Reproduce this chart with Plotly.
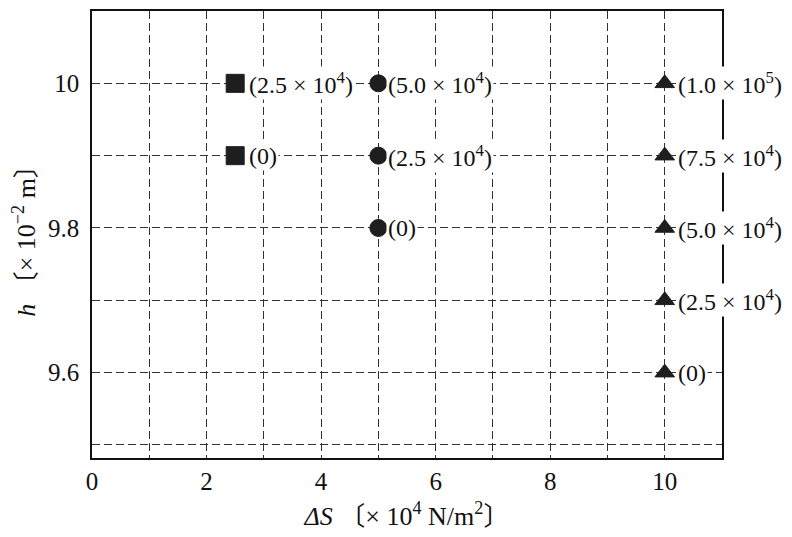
import plotly.graph_objects as go

# Data
square_x = [2.5, 2.5]
square_y = [9.9, 10.0]
square_labels = ["(0)", "(2.5 × 10<sup>4</sup>)"]

circle_x = [5, 5, 5]
circle_y = [9.8, 9.9, 10.0]
circle_labels = ["(0)", "(2.5 × 10<sup>4</sup>)", "(5.0 × 10<sup>4</sup>)"]

tri_x = [10, 10, 10, 10, 10]
tri_y = [9.6, 9.7, 9.8, 9.9, 10.0]
tri_labels = ["(0)", "(2.5 × 10<sup>4</sup>)", "(5.0 × 10<sup>4</sup>)",
              "(7.5 × 10<sup>4</sup>)", "(1.0 × 10<sup>5</sup>)"]

x_tickvals = [0, 2, 4, 6, 8, 10]
x_ticktext = ["0", "2", "4", "6", "8", "10"]
y_tickvals = [9.6, 9.8, 10.0]
y_ticktext = ["9.6", "9.8", "10"]

SERIF = "'Liberation Serif', 'DejaVu Serif', 'Noto Sans CJK JP', serif"
MARK = "#1e1e1e"

series = [
    (square_x, square_y, square_labels, "square", 18, 12),
    (circle_x, circle_y, circle_labels, "circle", 17, 8),
    (tri_x, tri_y, tri_labels, "triangle-up", 17, 11),
]

fig = go.Figure()
for xs, ys, labs, sym, sz, shift in series:
    fig.add_trace(go.Scatter(
        x=xs, y=ys, mode="markers",
        marker=dict(symbol=sym, size=sz, color=MARK,
                    line=dict(width=1, color=MARK)),
        showlegend=False, hoverinfo="skip"))

for xs, ys, labs, sym, sz, shift in series:
    for x, y, t in zip(xs, ys, labs):
        fig.add_annotation(x=x, y=y, text=t, showarrow=False,
                           xanchor="left", yanchor="middle", xshift=shift,
                           bgcolor="white", borderpad=1,
                           font=dict(family=SERIF, size=24, color="#111"))

GRID_DASH = "8px,4px"

fig.update_layout(
    width=792, height=537,
    margin=dict(l=84, r=78, t=1, b=87),
    paper_bgcolor="white", plot_bgcolor="white",
    font=dict(family=SERIF, size=24, color="#111"),
    xaxis=dict(range=[0, 11], tickvals=x_tickvals, ticktext=x_ticktext,
               showgrid=False, zeroline=False,
               showline=True, mirror=True, linecolor="#111", linewidth=1.5,
               ticks="", tickfont=dict(family=SERIF, size=25, color="#111"),
               minor=dict(dtick=1, tick0=0, showgrid=True, gridcolor="#333",
                          gridwidth=1, griddash=GRID_DASH, ticks=""),
               title=dict(text="<i>Δ</i><i>S</i> 〔× 10<sup>4</sup> N/m<sup>2</sup>〕",
                          font=dict(family=SERIF, size=26, color="#111"), standoff=13)),
    yaxis=dict(range=[9.482, 10.1], tickvals=y_tickvals, ticktext=y_ticktext,
               showgrid=False, zeroline=False,
               showline=True, mirror=True, linecolor="#111", linewidth=1.5,
               ticks="", tickfont=dict(family=SERIF, size=25, color="#111"),
               ticklabelstandoff=6,
               minor=dict(dtick=0.1, tick0=9.5, showgrid=True, gridcolor="#333",
                          gridwidth=1, griddash=GRID_DASH, ticks=""),
               title=dict(text="<i>h</i> 〔× 10<sup>−2</sup> m〕",
                          font=dict(family=SERIF, size=26, color="#111"), standoff=12)),
)

fig.write_html("out.html")
